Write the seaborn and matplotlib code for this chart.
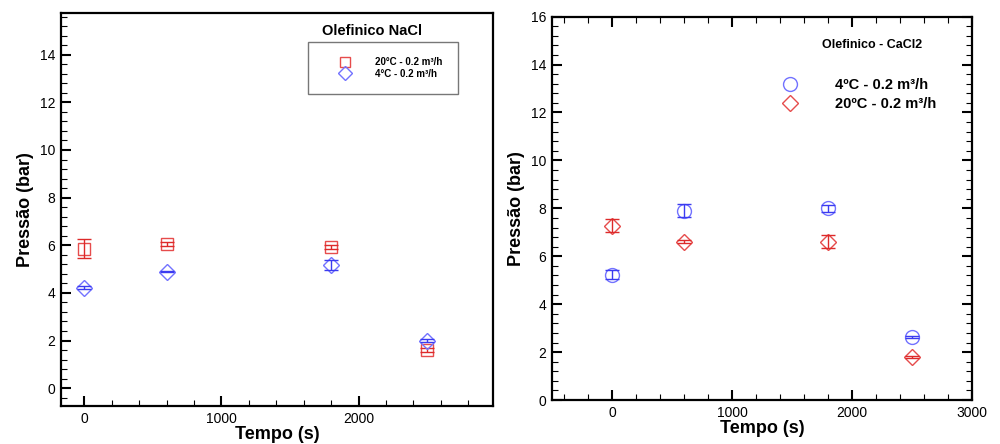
import matplotlib
matplotlib.use("Agg")
import matplotlib.pyplot as plt
from matplotlib.ticker import MultipleLocator
import seaborn as sns
import pandas as pd
import numpy as np

# ---------------- data ----------------
tempo = [0, 600, 1800, 2500]

# Olefinico NaCl
nacl_20_p = [5.86, 6.05, 5.92, 1.60]
nacl_20_err = [0.40, 0.10, 0.07, 0.08]
nacl_4_p = [4.22, 4.89, 5.18, 2.00]
nacl_4_err = [0.05, 0.03, 0.20, 0.05]

# Olefinico - CaCl2
cacl_4_p = [5.23, 7.90, 8.01, 2.64]
cacl_4_err = [0.18, 0.28, 0.15, 0.04]
cacl_20_p = [7.28, 6.61, 6.61, 1.80]
cacl_20_err = [0.26, 0.05, 0.26, 0.05]

label_nacl_20 = "20°C - 0.2 m³/h"
label_nacl_4 = "4°C - 0.2 m³/h"
label_cacl_4 = "4ºC - 0.2 m³/h"
label_cacl_20 = "20ºC - 0.2 m³/h"

title_nacl = "Olefinico NaCl"
title_cacl = "Olefinico - CaCl2"
xlabel = "Tempo (s)"
ylabel = "Pressão (bar)"

# ---------------- style ----------------
sns.set_style("white")
plt.rcParams['font.family'] = ['Liberation Sans', 'DejaVu Sans']
plt.rcParams['text.color'] = 'black'
plt.rcParams['axes.labelcolor'] = 'black'

RED = "#e64c4c"
BLUE = "#7272ff"
RED_E = "#dd2a2a"
BLUE_E = "#3b3bf0"

fig = plt.figure(figsize=(10, 4.44), dpi=100)
ax1 = fig.add_axes([0.061, 0.0856, 0.432, 0.885])
ax2 = fig.add_axes([0.552, 0.099, 0.420, 0.8635])


def series(ax, p, err, marker, color, ecolor, ms, label):
    df = pd.DataFrame({"t": tempo, "p": p})
    sns.lineplot(data=df, x="t", y="p", ax=ax, marker=marker, linestyle="",
                 markersize=ms, markerfacecolor="none", markeredgecolor=color,
                 markeredgewidth=1.0, color=color, label=label, sort=False)
    ax.errorbar(tempo, p, yerr=err, fmt="none", ecolor=ecolor, elinewidth=1.0,
                capsize=5, capthick=1.0, label="_nolegend_")


# ---------------- left: NaCl ----------------
series(ax1, nacl_20_p, nacl_20_err, "s", RED, RED_E, 8.8, label_nacl_20)
series(ax1, nacl_4_p, nacl_4_err, "D", BLUE, BLUE_E, 8.5, label_nacl_4)
ax1.set_xlim(-170, 2980)
ax1.set_ylim(-0.75, 15.75)
ax1.xaxis.set_major_locator(MultipleLocator(1000))
ax1.xaxis.set_minor_locator(MultipleLocator(200))
ax1.yaxis.set_major_locator(MultipleLocator(2))
ax1.yaxis.set_minor_locator(MultipleLocator(0.4))
ax1.tick_params(which="both", direction="in", top=False, right=False,
                bottom=True, left=True, labelsize=10, colors="black")
ax1.tick_params(which="major", length=7, width=1.5, pad=4)
ax1.tick_params(which="minor", length=4, width=0.8)
ax1.text(0.72, 0.955, title_nacl, transform=ax1.transAxes, ha="center",
         va="center", fontsize=10.5, fontweight="bold")
leg1 = ax1.legend(loc="upper left", bbox_to_anchor=(0.572, 0.927),
                  prop={"weight": "bold", "size": 7}, markerscale=0.8,
                  frameon=True, fancybox=False, borderpad=1.6,
                  handlelength=4.4, handletextpad=0.9, labelspacing=0.15,
                  borderaxespad=0)
leg1.get_frame().set_edgecolor("#555555")
leg1.get_frame().set_linewidth(1.0)

# ---------------- right: CaCl2 ----------------
series(ax2, cacl_4_p, cacl_4_err, "o", BLUE, BLUE_E, 10, label_cacl_4)
series(ax2, cacl_20_p, cacl_20_err, "D", RED, RED_E, 8, label_cacl_20)
ax2.set_xlim(-500, 3000)
ax2.set_ylim(0, 16)
ax2.xaxis.set_major_locator(MultipleLocator(1000))
ax2.xaxis.set_minor_locator(MultipleLocator(200))
ax2.yaxis.set_major_locator(MultipleLocator(2))
ax2.yaxis.set_minor_locator(MultipleLocator(0.4))
ax2.tick_params(which="both", direction="in", top=True, right=True,
                bottom=True, left=True, labelsize=10, colors="black")
ax2.tick_params(which="major", length=7, width=1.5, pad=4)
ax2.tick_params(which="minor", length=4, width=0.8)
ax2.text(0.762, 0.926, title_cacl, transform=ax2.transAxes, ha="center",
         va="center", fontsize=9, fontweight="bold")
leg2 = ax2.legend(loc="upper left", bbox_to_anchor=(0.532, 0.839),
                  prop={"weight": "bold", "size": 10.5}, frameon=False,
                  borderpad=0, handlelength=2.0, handletextpad=2.1,
                  labelspacing=0.3, borderaxespad=0)

for ax in (ax1, ax2):
    for s in ax.spines.values():
        s.set_visible(True)
        s.set_color("black")
        s.set_linewidth(1.6)
    ax.set_xlabel(xlabel, fontsize=13, fontweight="bold", labelpad=0)
    ax.set_ylabel(ylabel, fontsize=13, fontweight="bold", labelpad=4)
    ax.grid(False)

fig.savefig("out.png", dpi=100)
